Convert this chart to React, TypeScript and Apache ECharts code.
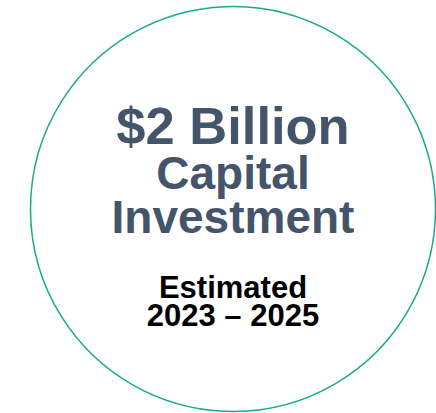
import React, { useEffect, useRef } from "react";
import * as echarts from "echarts";

const headlineLines = ["$2 Billion", "Capital", "Investment"];
const subLines = ["Estimated", "2023 – 2025"];

export default function App() {
  const ref = useRef<HTMLDivElement>(null);
  useEffect(() => {
    if (!ref.current) return;
    const chart = echarts.init(ref.current, null, { renderer: "svg" });
    const font = '"Liberation Sans", Arial, sans-serif';
    const headText = headlineLines
      .map((t, i) => (i === 0 ? `{a|${t}}` : `{b|${t}}`))
      .join("\n");
    const elements: any[] = [
      {
        type: "circle",
        shape: { cx: 233, cy: 209, r: 202.5 },
        style: { fill: "#ffffff", stroke: "#1aab8a", lineWidth: 1.5 },
      },
      {
        type: "text",
        x: 233,
        y: 98.7,
        style: {
          text: headText,
          align: "center",
          verticalAlign: "top",
          rich: {
            a: {
              fill: "#44546a",
              fontFamily: font,
              fontWeight: "bold",
              fontSize: 52.5,
              lineHeight: 52.6,
              align: "center",
            },
            b: {
              fill: "#44546a",
              fontFamily: font,
              fontWeight: "bold",
              fontSize: 46,
              lineHeight: 44,
              align: "center",
            },
          },
        },
      },
      {
        type: "text",
        x: 233,
        y: 273,
        style: {
          text: subLines.join("\n"),
          fill: "#000000",
          font: `bold 31px ${font}`,
          lineHeight: 28,
          align: "center",
          verticalAlign: "top",
        },
      },
    ];
    chart.setOption({ animation: false, graphic: { elements } });
    return () => chart.dispose();
  }, []);
  return (
    <div
      ref={ref}
      style={{ position: "fixed", left: 0, top: 0, width: 436, height: 413, background: "#fff" }}
    />
  );
}
